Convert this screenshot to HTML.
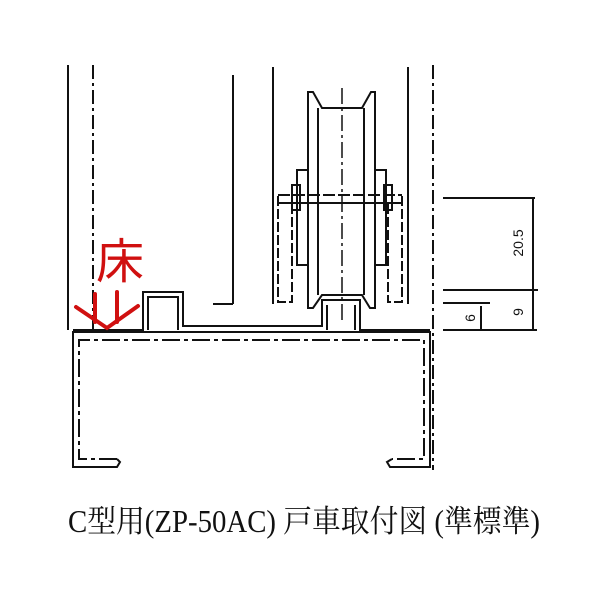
<!DOCTYPE html>
<html><head><meta charset="utf-8"><style>
html,body{margin:0;padding:0;background:#fff;width:600px;height:600px;overflow:hidden}
</style></head><body>
<svg width="600" height="600" viewBox="0 0 600 600" xmlns="http://www.w3.org/2000/svg">
<g fill="none" stroke="#111" stroke-width="2">
<line x1="68" y1="65" x2="68" y2="330"/>
<line x1="93" y1="65" x2="93" y2="330" stroke-dasharray="14,4,3,4"/>
<line x1="233" y1="75" x2="233" y2="304"/>
<line x1="213" y1="304" x2="233" y2="304"/>
<line x1="273" y1="67" x2="273" y2="304"/>
<line x1="408" y1="67" x2="408" y2="304"/>
<line x1="433" y1="65" x2="433" y2="470" stroke-dasharray="14,4,3,4"/>
<path d="M308,92 L313,92 L322,108 L362,108 L371,92 L375,92 L375,308 L370,308 L362,295 L322,295 L313,308 L308,308 Z"/>
<line x1="318" y1="108" x2="318" y2="295"/>
<line x1="364" y1="108" x2="364" y2="295"/>
<line x1="342" y1="88" x2="342" y2="320" stroke-dasharray="16,4,3,4" stroke-width="1.5"/>
<rect x="297" y="170" width="11" height="95"/>
<rect x="375" y="170" width="11" height="95"/>
<rect x="292" y="185" width="8" height="25"/>
<rect x="384" y="185" width="8" height="25"/>
<line x1="278" y1="195" x2="402" y2="195" stroke-dasharray="12,3"/>
<line x1="278" y1="203" x2="402" y2="203"/>
<path d="M278,196 L278,302 L292,302 L292,203" stroke-dasharray="10,3"/>
<path d="M402,196 L402,302 L388,302 L388,203" stroke-dasharray="10,3"/>
<path d="M73,330 L143,330 L143,292 L183,292 L183,326 L322,326 L322,300 L360,300 L360,330 L430,330"/>
<path d="M148,330 L148,297 L178,297 L178,330"/>
<line x1="327" y1="305" x2="327" y2="330"/><line x1="355" y1="305" x2="355" y2="330"/>
<path d="M117,459 L79,459 L79,340 L424,340 L424,459 L392,459" stroke-dasharray="18,4,4,4"/>
<path d="M117,459 L120,462 L117,467 L73,467 L73,332 L430,332 L430,467 L390,467 L387,462 L392,459"/>
<line x1="443" y1="198" x2="535" y2="198"/>
<line x1="533" y1="198" x2="533" y2="330"/>
<line x1="443" y1="290" x2="538" y2="290"/>
<line x1="443" y1="303" x2="490" y2="303"/>
<line x1="481" y1="306" x2="481" y2="330"/>
<line x1="443" y1="330" x2="537" y2="330"/>
</g>
<g font-family="Liberation Sans, sans-serif" font-size="14" fill="#111">
<text transform="translate(523,243) rotate(-90)" text-anchor="middle">20.5</text>
<text transform="translate(523,312) rotate(-90)" text-anchor="middle">9</text>
<text transform="translate(475,318) rotate(-90)" text-anchor="middle">6</text>
</g>
<text x="96" y="278" font-family="Liberation Sans, Noto Sans CJK JP, sans-serif" font-size="48" fill="#d01010">床</text>
<g stroke="#d01010" stroke-width="4" fill="none" stroke-linecap="round">
<line x1="95" y1="294" x2="95" y2="322"/>
<line x1="117" y1="292" x2="117" y2="322"/>
<path d="M76,307 L107,328 L138,306"/>
</g>
<text x="68" y="532" textLength="472" lengthAdjust="spacingAndGlyphs" transform="translate(0,-133) scale(1,1.25)" font-family="Liberation Serif, Noto Serif CJK SC, serif" font-size="25" fill="#111">C型用(ZP-50AC) 戸車取付図 (準標準)</text>
</svg>
</body></html>
